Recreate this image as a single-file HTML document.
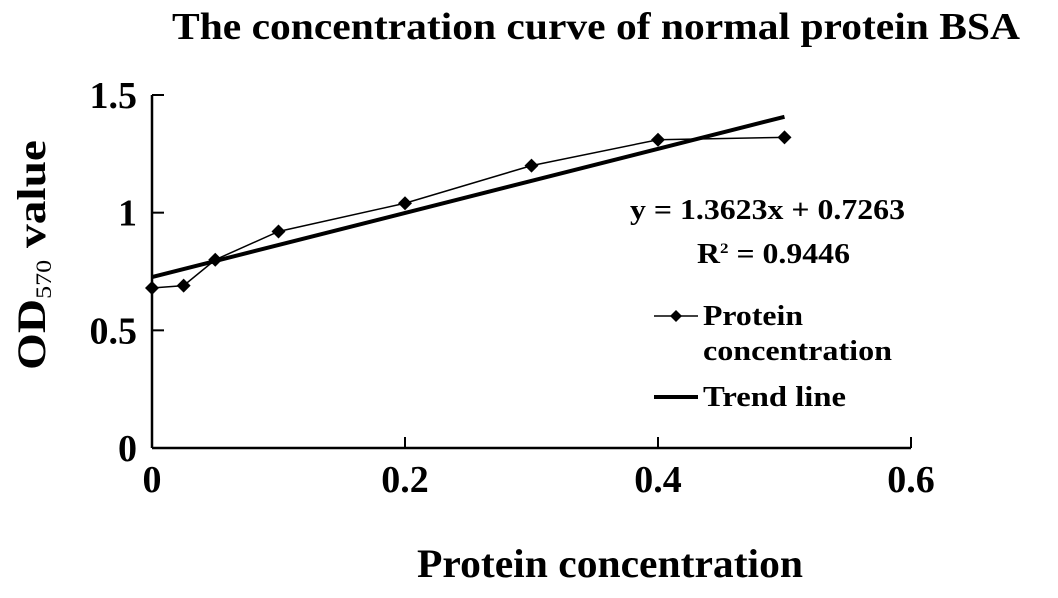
<!DOCTYPE html>
<html><head><meta charset="utf-8"><style>
body{margin:0;background:#fff;}
svg text{font-family:"Liberation Serif",serif;font-weight:bold;fill:#000;}
</style></head><body>
<svg id="chart" width="1058" height="593" viewBox="0 0 1058 593" xmlns="http://www.w3.org/2000/svg">
<text x="172" y="39" font-size="38" textLength="848" lengthAdjust="spacingAndGlyphs">The concentration curve of normal protein BSA</text>
<text x="417" y="577" font-size="40" textLength="386" lengthAdjust="spacingAndGlyphs">Protein concentration</text>
<text transform="translate(45,370) rotate(-90)" font-size="40" textLength="230" lengthAdjust="spacingAndGlyphs">OD<tspan font-size="22" font-weight="normal" dy="6">570</tspan><tspan dy="-6"> value</tspan></text>
<g id="axes"></g>
<g id="marks"></g>
<text x="630" y="219" font-size="28" textLength="275" lengthAdjust="spacingAndGlyphs">y = 1.3623x + 0.7263</text>
<text x="697" y="263" font-size="28" textLength="153" lengthAdjust="spacingAndGlyphs">R<tspan font-size="15" dy="-10">2</tspan><tspan dy="10"> = 0.9446</tspan></text>
<g>
<line x1="654" y1="316" x2="698" y2="316" stroke="#000" stroke-width="1.5"/>
<path d="M676 310 L682 316 L676 322 L670 316Z" fill="#000"/>
<text x="703" y="325" font-size="28" textLength="100" lengthAdjust="spacingAndGlyphs">Protein</text>
<text x="703" y="360" font-size="28" textLength="189" lengthAdjust="spacingAndGlyphs">concentration</text>
<line x1="654" y1="397" x2="698" y2="397" stroke="#000" stroke-width="4"/>
<text x="703" y="406" font-size="28" textLength="143" lengthAdjust="spacingAndGlyphs">Trend line</text>
</g>
</svg>
<script>
const xTicks=[0,0.2,0.4,0.6];
const yTicks=[0,0.5,1,1.5];
const yTickLabels=["0","0.5","1","1.5"];
const concentrations=[0,0.025,0.05,0.1,0.2,0.3,0.4,0.5];
const odValues=[0.68,0.69,0.80,0.92,1.04,1.20,1.31,1.32];
const slope=1.3623, intercept=0.7263;
const trendRange=[0,0.5];
const X=v=>152+v*(911-152)/0.6;
const Y=v=>448-v*(448-95)/1.5;
const NS="http://www.w3.org/2000/svg";
const ax=document.getElementById('axes'),mk=document.getElementById('marks');
function el(t,a,p){const e=document.createElementNS(NS,t);for(const k in a)e.setAttribute(k,a[k]);p.appendChild(e);return e;}
let e=el('line',{x1:X(0),y1:Y(0),x2:X(0.6),y2:Y(0),stroke:'#000','stroke-width':2.5},ax);


e=el('line',{x1:X(0),y1:Y(0),x2:X(0),y2:Y(1.5),stroke:'#000','stroke-width':2.5},ax);


xTicks.forEach(v=>{
 el('line',{x1:X(v),y1:Y(0),x2:X(v),y2:Y(0)-11,stroke:'#000','stroke-width':2},ax);
 const t=el('text',{x:X(v),y:492,'font-size':38,'text-anchor':'middle'},ax);t.textContent=String(v);
 
 
});
yTicks.forEach((v,i)=>{
 el('line',{x1:X(0),y1:Y(v),x2:X(0)+12,y2:Y(v),stroke:'#000','stroke-width':2},ax);
 const t=el('text',{x:137,y:Y(v)+13,'font-size':38,'text-anchor':'end'},ax);t.textContent=yTickLabels[i];
 
 
});
e=el('line',{x1:X(trendRange[0]),y1:Y(slope*trendRange[0]+intercept),x2:X(trendRange[1]),y2:Y(slope*trendRange[1]+intercept),stroke:'#000','stroke-width':4},mk);


e=el('polyline',{points:concentrations.map((c,i)=>X(c)+','+Y(odValues[i])).join(' '),fill:'none',stroke:'#000','stroke-width':1.5},mk);


concentrations.forEach((c,i)=>{
 const x=X(c),y=Y(odValues[i]);
 const p=el('path',{d:`M${x} ${y-7}L${x+7} ${y}L${x} ${y+7}L${x-7} ${y}Z`,fill:'#000'},mk);
 
 
});
</script>
</body></html>
